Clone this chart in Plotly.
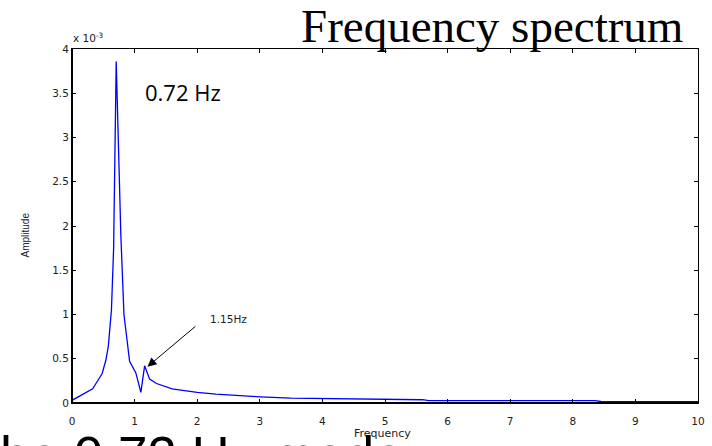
import plotly.graph_objects as go

# Frequency (Hz) and amplitude (x 1e-3)
freq = [0.00, 0.10, 0.20, 0.33, 0.40, 0.48, 0.54, 0.58, 0.63, 0.665, 0.706, 0.78, 0.83,
        0.92, 1.02, 1.10, 1.16, 1.24, 1.35, 1.47, 1.60, 1.80, 2.00, 2.30, 2.60, 3.00,
        3.50, 4.00, 4.27, 4.30, 5.00, 5.60, 5.70, 6.50, 7.00, 8.35, 8.45, 9.00, 10.00]
amp_e3 = [0.03, 0.07, 0.11, 0.16, 0.24, 0.33, 0.48, 0.64, 1.05, 1.75, 3.86, 1.90, 1.00,
          0.47, 0.34, 0.12, 0.42, 0.27, 0.22, 0.19, 0.16, 0.14, 0.12, 0.10, 0.085, 0.07,
          0.055, 0.052, 0.05, 0.042, 0.04, 0.037, 0.027, 0.027, 0.027, 0.027, 0.017, 0.017, 0.016]

x_ticks = list(range(0, 11))
y_ticks = [0, 0.5, 1, 1.5, 2, 2.5, 3, 3.5, 4]
y_ticktext = ["0", "0.5", "1", "1.5", "2", "2.5", "3", "3.5", "4"]

title_text = "Frequency spectrum"
peak_label = "0.72 Hz"
second_label = "1.15Hz"
x_label = "Frequency"
y_label = "Amplitude"
bottom_text = "he 0.72 Hz mode"

W, H = 712, 446
L, R, T, B = 72, 7, 49, 43
pw, ph = W - L - R, H - T - B


def px(x):
    return (x - L) / pw


def py(y):
    return (H - B - y) / ph


fig = go.Figure()
fig.add_trace(go.Scatter(x=freq, y=amp_e3, mode="lines",
                         line=dict(color="#0000ff", width=1.3),
                         hoverinfo="skip", showlegend=False))

tickfont = dict(family="DejaVu Sans", size=10.5, color="#222222")
fig.update_xaxes(range=[0, 10], tickvals=x_ticks, ticks="inside", ticklen=4,
                 tickcolor="#000", showline=True, linecolor="#000", linewidth=1,
                 mirror="ticks", showgrid=False, zeroline=False, tickfont=tickfont,
                 ticklabelstandoff=8)
fig.update_yaxes(range=[0, 4], tickvals=y_ticks, ticktext=y_ticktext, ticks="inside",
                 ticklen=4, tickcolor="#000", showline=True, linecolor="#000",
                 linewidth=1, mirror="ticks", showgrid=False, zeroline=False,
                 tickfont=tickfont)

# thicker left and bottom axis lines
fig.add_shape(type="line", xref="paper", yref="paper", x0=0, x1=0, y0=0, y1=1,
              line=dict(color="#000", width=2))
fig.add_shape(type="line", xref="paper", yref="paper", x0=0, x1=1, y0=0, y1=0,
              line=dict(color="#000", width=2))

ann = []
ann.append(dict(text=title_text, xref="paper", yref="paper", x=px(692), y=py(26),
                xanchor="right", yanchor="middle", showarrow=False,
                font=dict(family="Liberation Serif", size=47, color="#000")))
ann.append(dict(text="x 10<sup>-3</sup>", xref="paper", yref="paper", x=px(71), y=py(37),
                xanchor="left", yanchor="middle", showarrow=False,
                font=dict(family="DejaVu Sans", size=10.5, color="#222")))
ann.append(dict(text=peak_label, xref="paper", yref="paper", x=px(184), y=py(92),
                xanchor="center", yanchor="middle", showarrow=False,
                font=dict(family="Open Sans", size=22, color="#000")))
ann.append(dict(text=second_label, xref="paper", yref="paper", x=px(230), y=py(319),
                xanchor="center", yanchor="middle", showarrow=False,
                font=dict(family="DejaVu Sans", size=10.5, color="#222")))
ann.append(dict(text="", x=1.205, y=0.41, ax=1.995, ay=0.88, axref="x", ayref="y",
                xref="x", yref="y", showarrow=True, arrowhead=2, arrowsize=1.8,
                arrowwidth=1, arrowcolor="#000"))
ann.append(dict(text=x_label, xref="paper", yref="paper", x=px(386), y=py(434),
                xanchor="center", yanchor="middle", showarrow=False,
                font=dict(family="DejaVu Sans", size=11, color="#222")))
ann.append(dict(text=y_label, xref="paper", yref="paper", x=px(25), y=py(235),
                xanchor="center", yanchor="middle", showarrow=False, textangle=-90,
                font=dict(family="Liberation Sans", size=10, color="#222")))
ann.append(dict(text=bottom_text, xref="paper", yref="paper", x=px(-3), y=py(424),
                xanchor="left", yanchor="top", showarrow=False,
                font=dict(family="Liberation Sans", size=53, color="#000")))

fig.update_layout(width=W, height=H, margin=dict(l=L, r=R, t=T, b=B),
                  plot_bgcolor="white", paper_bgcolor="white", annotations=ann)

fig.write_html("out.html")
